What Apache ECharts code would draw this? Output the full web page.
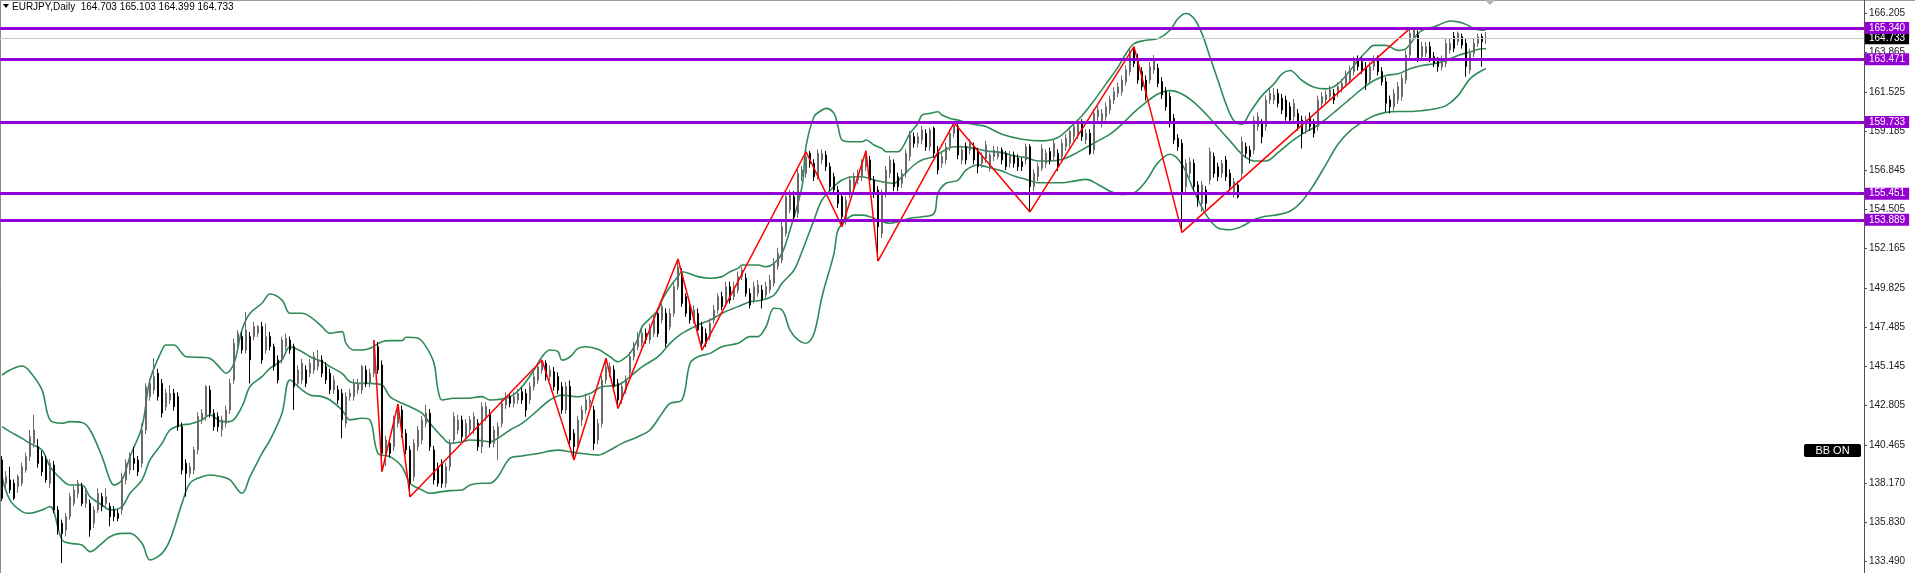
<!DOCTYPE html>
<html><head><meta charset="utf-8">
<script src="https://cdn.jsdelivr.net/npm/echarts@6/dist/echarts.min.js"></script>
<style>html,body{margin:0;padding:0;background:#fff;overflow:hidden}#c{width:1915px;height:573px}</style>
</head><body><div id="c"></div>
<script>
const symbolText = 'EURJPY,Daily';
const lastOHLC = ['164.703', '165.103', '164.399', '164.733'];
// daily candles: [open, close, low, high]
const candles = [
[139.56,137.27,137.10,139.80],[138.17,138.56,137.77,138.90],[138.37,137.77,137.57,139.16],[138.17,137.27,137.17,138.40],[137.97,138.56,137.60,138.70],
[138.17,139.16,138.00,139.40],[138.96,139.76,138.80,140.00],[139.76,140.95,139.50,141.35],[140.55,141.35,140.30,142.25],[140.35,139.36,139.10,140.80],
[139.76,138.86,138.60,140.10],[139.56,138.37,138.20,139.80],[138.17,139.36,137.90,139.60],[139.26,136.58,136.40,139.50],[136.58,135.38,135.10,136.80],
[135.78,135.18,133.40,136.00],[135.38,136.18,135.00,136.40],[136.18,137.37,136.00,137.60],[136.97,137.77,136.80,138.00],[137.57,138.17,137.30,138.37],
[137.97,136.97,136.80,138.20],[136.97,137.57,136.70,137.80],[136.97,135.38,134.98,137.20],[135.78,136.58,135.50,136.80],[136.58,137.57,136.40,137.87],
[137.37,136.78,136.50,137.60],[136.97,137.37,136.70,137.87],[136.78,136.18,135.60,137.00],[136.58,136.18,135.90,136.80],[136.38,136.08,135.90,136.60],
[136.58,138.57,136.30,138.80],[138.37,139.36,138.10,139.60],[138.96,139.76,138.70,140.00],[139.66,139.36,138.96,140.35],[139.56,138.86,138.60,139.80],
[139.36,141.35,139.10,141.75],[141.35,143.94,141.10,144.13],[143.34,144.13,143.10,144.40],[143.74,144.53,143.50,145.63],[144.73,143.34,143.10,145.00],
[144.13,142.35,142.10,144.40],[142.74,143.54,142.50,143.80],[143.14,143.54,142.90,144.03],[143.54,142.74,142.50,143.80],[143.34,141.55,141.30,143.60],
[141.55,138.96,138.70,141.80],[139.36,138.76,137.37,139.60],[138.76,139.16,138.50,139.40],[138.96,140.16,138.70,140.35],[140.16,142.15,139.90,142.40],
[141.95,142.35,141.70,142.60],[142.15,143.94,141.90,144.03],[143.74,142.35,142.10,144.00],[142.35,141.55,141.30,142.60],[142.15,141.55,141.25,142.40],
[141.35,141.95,140.95,142.20],[141.75,142.54,141.50,142.80],[142.54,144.13,142.30,144.40],[144.33,146.52,144.10,146.80],[146.52,147.12,146.30,147.32],
[146.92,146.12,145.90,147.20],[146.12,147.32,145.90,148.40],[146.92,145.53,144.13,147.20],[146.92,147.52,146.70,147.80],[147.12,147.52,146.90,147.61],
[147.52,145.53,145.30,147.80],[146.12,146.92,145.90,147.71],[146.92,146.32,146.10,147.20],[146.32,145.13,144.90,146.50],[145.53,144.33,144.13,145.80],
[145.53,146.72,145.30,146.92],[146.32,146.82,146.10,147.10],[146.72,146.12,145.90,146.92],[146.32,143.94,142.54,146.50],[144.13,144.93,143.90,145.20],
[144.33,145.33,144.10,145.60],[144.93,144.13,143.90,145.20],[144.73,145.33,144.50,145.60],[144.93,145.73,144.70,146.00],[145.13,145.53,144.90,146.12],
[145.53,144.73,144.50,145.80],[145.13,144.33,144.10,145.40],[144.73,143.74,143.50,145.00],[143.74,144.33,143.50,144.60],[143.74,143.14,142.90,144.00],
[143.54,141.95,140.85,143.80],[141.75,143.34,141.50,143.60],[143.34,143.54,143.10,143.80],[143.34,144.13,143.10,144.40],[143.74,144.13,143.50,144.40],
[143.74,145.13,143.50,145.23],[144.93,144.13,143.90,145.20],[144.13,144.73,143.90,145.00],[144.73,146.32,144.50,146.72],[146.32,144.93,144.70,146.60],
[145.23,139.96,138.87,145.50],[139.96,140.75,139.20,141.00],[140.55,139.96,139.70,140.80],[140.35,141.95,140.10,142.20],[141.75,142.74,141.50,142.90],
[142.54,141.15,140.90,142.80],[141.15,140.16,139.90,141.40],[140.16,138.17,137.37,140.40],[138.56,140.55,138.30,140.80],[140.35,141.35,140.10,141.60],
[140.75,141.95,140.50,142.20],[141.75,142.35,141.50,142.84],[142.35,140.35,140.10,142.60],[140.16,138.37,138.10,140.40],[139.16,138.17,137.97,139.40],
[139.36,138.17,137.90,139.60],[138.17,139.16,137.90,139.40],[139.16,140.55,138.90,140.80],[140.75,142.15,140.50,142.40],[141.35,141.95,141.10,142.25],
[141.95,140.95,140.70,142.20],[140.95,141.75,140.70,142.00],[141.35,141.95,141.10,142.20],[141.35,142.15,141.10,142.40],[141.75,140.35,140.10,142.00],
[140.35,142.74,139.96,143.00],[142.15,142.74,141.90,143.00],[142.35,140.55,140.30,142.60],[140.55,141.35,140.30,141.60],[140.95,141.55,139.56,141.80],
[141.74,142.94,141.50,143.20],[142.84,143.33,142.60,143.60],[143.33,142.94,142.70,143.50],[142.94,143.33,142.70,143.60],[143.14,143.53,142.90,143.80],
[143.63,143.14,142.90,143.90],[143.53,142.54,142.14,143.80],[143.14,143.93,142.90,144.20],[143.93,144.53,143.70,144.80],[144.33,145.12,144.10,145.30],
[144.93,145.32,144.70,145.52],[145.32,144.53,144.30,145.50],[144.53,144.93,144.30,145.20],[144.83,143.93,143.70,145.10],[144.53,143.73,143.50,144.80],
[143.93,142.54,142.30,144.20],[142.54,143.94,142.30,144.20],[143.94,140.75,140.50,144.30],[141.15,140.35,139.56,141.40],[140.55,141.94,140.30,142.20],
[141.94,142.54,141.60,142.80],[142.54,143.14,142.30,143.53],[142.94,143.14,142.70,143.40],[142.54,140.55,140.16,142.80],[140.75,141.74,140.50,142.00],
[141.74,144.33,141.50,144.60],[144.33,145.12,144.10,145.63],[144.73,145.12,144.50,145.40],[144.93,143.93,143.70,145.20],[144.13,143.14,142.64,144.40],
[143.14,143.93,142.90,144.20],[143.73,144.33,143.50,144.60],[144.73,145.72,144.50,146.00],[145.72,146.32,145.50,146.60],[146.32,146.92,146.10,147.20],
[146.52,147.11,146.30,147.40],[147.11,146.72,146.50,147.40],[146.72,147.41,146.50,147.70],[147.11,147.91,146.90,148.20],[148.30,147.11,146.90,148.60],
[147.91,148.71,147.70,148.90],[148.31,146.52,146.30,148.60],[147.51,148.31,147.30,148.60],[148.31,149.90,148.10,150.20],[149.90,151.09,149.70,151.55],
[150.70,148.91,148.70,151.00],[149.30,148.31,148.10,149.50],[148.71,147.91,147.70,149.00],[147.91,148.51,147.70,148.80],[148.31,147.31,147.10,148.60],
[147.51,146.52,146.12,147.80],[147.11,146.52,146.30,147.40],[146.92,147.71,146.70,148.00],[147.91,148.51,147.70,148.80],[148.51,149.30,148.30,149.50],
[149.30,148.71,148.50,149.60],[148.91,149.90,148.70,150.20],[149.90,149.10,148.90,150.20],[149.30,149.90,149.10,150.20],[149.70,150.50,149.50,150.80],
[150.50,150.89,150.30,151.09],[150.40,149.50,149.30,150.70],[149.50,148.81,148.60,149.80],[149.10,149.90,148.90,150.20],[149.50,150.00,149.30,150.30],
[149.70,149.10,148.60,150.00],[149.40,149.90,149.20,150.20],[149.70,150.30,149.50,150.60],[150.10,151.29,149.90,151.60],[151.09,151.89,150.90,152.20],
[151.49,153.48,151.30,153.80],[153.08,155.27,152.90,155.60],[154.47,155.47,154.30,155.67],[155.27,154.07,153.90,155.60],[154.27,156.66,154.00,157.06],
[156.46,156.86,156.20,157.10],[156.66,157.66,156.40,157.95],[157.86,157.26,157.00,158.00],[157.26,156.46,156.20,157.50],[156.46,157.86,156.30,158.10],
[157.46,157.86,157.20,158.10],[157.76,157.06,156.80,158.00],[157.06,155.87,155.60,157.30],[156.46,155.67,155.40,156.70],[155.67,154.87,154.60,155.90],
[155.27,154.07,153.48,155.50],[153.88,155.07,153.60,155.30],[155.47,156.26,155.20,156.50],[155.87,156.46,155.60,156.70],[156.26,156.66,156.00,156.90],
[156.46,157.26,156.20,157.50],[157.06,157.76,156.80,158.01],[157.46,156.26,156.00,157.70],[156.26,155.47,155.20,156.50],[155.67,153.48,151.43,155.90],
[153.08,155.47,152.80,155.70],[155.47,156.86,155.20,157.10],[156.66,157.46,156.40,157.70],[157.26,155.87,155.60,157.50],[156.46,155.87,155.60,156.70],
[156.07,156.66,155.80,156.90],[156.66,157.86,156.40,158.10],[157.66,158.95,157.40,159.20],[158.85,158.45,158.20,159.10],[158.45,158.85,158.20,159.10],
[158.65,159.25,158.40,159.50],[159.05,158.25,158.00,159.30],[158.25,159.25,158.00,159.40],[159.35,157.86,157.60,159.45],[158.05,156.86,156.60,158.30],
[157.26,157.66,157.00,157.90],[157.46,158.25,157.20,158.50],[158.25,159.05,158.00,159.30],[159.05,159.55,158.80,159.68],[159.45,157.76,157.50,159.60],
[157.46,158.05,157.20,158.30],[158.25,157.46,157.20,158.50],[158.05,158.45,157.80,158.70],[158.25,157.46,157.20,158.50],[157.96,157.06,156.66,158.20],
[157.26,157.66,157.00,157.90],[157.56,158.35,157.30,158.60],[157.06,157.76,156.76,157.90],[157.66,158.05,157.40,158.30],[157.66,157.96,157.50,158.25],
[158.05,157.46,157.20,158.20],[157.86,157.06,156.86,158.00],[157.26,157.76,157.00,158.00],[157.76,157.26,157.00,157.96],[157.56,157.06,156.80,157.80],
[157.36,157.06,156.80,157.60],[157.46,158.25,157.20,158.45],[158.25,155.87,154.36,158.40],[155.87,156.66,155.60,156.90],[156.46,157.06,156.20,157.30],
[156.96,158.15,156.80,158.40],[157.26,157.86,157.00,158.10],[157.96,157.46,157.20,158.20],[157.66,158.45,157.40,158.65],[157.86,157.06,156.80,158.10],
[157.66,158.45,157.40,158.70],[158.25,158.75,158.00,159.00],[158.45,159.15,158.20,159.40],[158.85,159.45,158.60,159.70],[158.95,159.74,158.70,159.85],
[159.65,158.85,158.60,159.90],[158.65,159.05,158.40,159.30],[159.05,157.86,157.76,159.30],[158.05,160.24,157.80,160.50],[160.04,160.44,159.80,160.70],
[159.65,160.24,159.40,160.50],[160.04,160.64,159.80,160.90],[160.44,161.04,160.20,161.30],[161.04,161.53,160.80,161.80],[161.43,161.83,161.20,162.10],
[161.53,162.23,161.30,162.50],[162.13,162.83,161.90,163.10],[162.73,163.82,162.50,164.10],[164.12,163.23,163.00,164.22],[163.52,162.23,162.00,163.80],
[162.73,161.83,161.60,163.00],[162.23,161.24,161.00,162.50],[162.23,163.03,162.00,163.30],[162.83,163.52,162.60,163.72],[162.93,162.03,161.80,163.20],
[162.13,161.34,161.10,162.40],[161.53,160.64,160.40,161.80],[161.24,159.65,159.40,161.50],[159.94,158.65,158.40,160.20],[158.75,158.25,158.00,159.00],
[158.45,155.47,153.14,158.70],[155.87,157.26,155.50,157.50],[156.66,157.36,156.40,157.60],[157.26,155.87,155.60,157.50],[155.97,155.07,154.67,156.20],
[154.87,155.97,154.36,156.20],[155.67,154.87,154.50,155.90],[156.26,157.96,156.00,158.20],[157.66,156.66,156.40,157.90],[157.06,156.46,156.20,157.30],
[156.66,157.26,156.40,157.46],[157.46,156.46,156.20,157.70],[156.66,155.87,155.60,156.90],[155.47,156.17,155.20,156.40],[155.97,155.27,155.17,156.20],
[156.66,158.55,156.40,158.85],[158.25,157.86,157.60,158.50],[158.05,157.66,157.26,158.30],[158.05,159.84,157.80,160.10],[159.45,160.04,159.20,160.30],
[159.65,158.85,158.45,159.90],[159.45,161.04,159.20,161.30],[161.04,161.43,160.80,161.70],[161.04,161.34,160.80,161.74],[161.43,160.84,160.60,161.70],
[161.14,160.44,160.20,161.40],[161.04,160.04,159.80,161.30],[160.64,159.84,159.60,160.90],[160.04,160.84,159.80,161.10],[160.24,159.45,159.20,160.50],
[159.84,159.05,158.15,160.10],[159.25,159.84,159.00,160.10],[160.04,159.45,159.20,160.30],[159.65,159.05,158.80,159.90],[159.45,161.04,159.20,161.30],
[160.84,161.24,160.60,161.50],[161.04,161.34,160.80,161.60],[161.24,161.63,161.00,161.90],[161.43,161.04,160.80,161.70],[161.43,161.83,161.20,162.10],
[161.73,162.03,161.50,162.30],[162.03,162.53,161.80,162.80],[162.23,162.83,162.00,163.10],[162.73,163.42,162.50,163.62],[163.42,163.03,162.80,163.70],
[163.32,162.83,162.60,163.60],[163.03,162.03,161.64,163.30],[162.23,163.03,162.00,163.30],[163.03,163.42,162.80,163.70],[163.42,162.73,162.50,163.70],
[162.73,162.13,161.90,163.00],[162.13,160.84,160.34,162.40],[161.04,160.64,160.24,161.30],[160.64,161.43,160.40,161.70],[161.04,161.83,160.80,162.10],
[161.24,162.33,161.00,162.60],[162.23,163.72,162.00,164.00],[163.72,165.02,163.50,165.31],[164.82,165.22,164.60,165.25],[164.92,163.52,163.30,165.20],
[163.62,164.22,163.40,164.50],[163.82,164.22,163.60,164.50],[164.22,163.52,163.30,164.50],[163.62,163.23,163.00,163.90],[163.32,163.03,162.73,163.60],
[163.03,163.42,162.80,163.70],[163.23,164.42,163.00,164.70],[164.02,164.42,163.80,164.70],[164.82,164.12,163.90,165.10],[164.52,165.02,164.30,165.12],
[164.82,164.32,164.10,165.00],[164.42,163.03,162.43,164.70],[162.83,163.82,162.60,164.10],[163.82,164.42,163.60,164.70],[164.42,164.82,164.20,165.00],
[164.82,164.52,163.03,165.00],[164.703,164.733,164.399,165.103]
];
const shiftBars = 94; // empty space right of the last bar
// Bollinger Bands: [barIndex, value]
const bbUpper = [
[0,144.63],[2,144.93],[5,145.17],[7,144.83],[10,143.74],[12,141.95],[15,141.75],[17,141.85],[20,141.79],[22,141.35],[25,139.76],[27,138.37],[28,138.07],[30,138.37],[32,139.76],[35,141.55],[37,144.33],[40,146.12],[41,146.42],[43,146.42],[45,145.92],[46,145.72],[50,145.68],[52,145.62],[55,144.93],[56,144.73],[58,145.33],[60,147.32],[62,148.31],[65,148.91],[67,149.46],[70,149.10],[72,148.31],[75,148.31],[77,148.11],[80,147.52],[82,147.12],[85,147.22],[86,146.52],[88,146.12],[90,146.12],[92,146.22],[95,146.62],[97,146.68],[100,146.68],[101,146.88],[104,146.82],[106,146.32],[108,145.33],[109,143.74],[110,143.14],[113,143.24],[116,143.24],[120,143.34],[122,143.14],[127,143.33],[130,143.93],[133,144.93],[135,145.72],[137,146.12],[139,146.02],[140,145.52],[142,145.72],[144,146.22],[146,146.32],[149,146.16],[152,145.72],[154,145.42],[155,145.52],[157,145.92],[159,146.81],[160,147.51],[162,148.01],[164,148.51],[165,149.10],[167,149.90],[169,150.50],[170,150.79],[174,150.50],[177,150.40],[180,150.50],[182,150.79],[184,150.99],[185,151.19],[189,151.19],[191,151.09],[193,151.29],[195,151.89],[197,153.28],[200,155.87],[201,158.25],[203,160.04],[205,160.44],[206,160.54],[208,160.24],[209,159.45],[210,158.65],[212,158.55],[215,158.55],[216,158.65],[218,158.35],[220,158.15],[221,157.95],[224,157.95],[225,158.15],[227,159.05],[229,159.65],[230,160.14],[232,160.24],[234,160.34],[235,160.14],[237,159.94],[239,159.84],[241,159.68],[244,159.55],[246,159.45],
[250,159.0],[255,158.7],[260,158.6],[264,158.8],[267,159.4],[270,160.1],[273,161.0],[276,162.0],[279,163.0],[281,163.8],[283,164.4],[286,164.6],[289,164.7],[292,165.2],[294,165.9],[296,166.2],[298,165.9],[300,165.0],[302,163.6],[304,162.2],[306,160.8],[308,159.8],[310,159.6],[312,160.3],[315,161.3],[318,162.0],[320,162.6],[322,162.8],[325,162.2],[328,161.8],[331,161.7],[334,162.0],[337,162.8],[339,163.4],[341,163.9],[343,164.3],[346,164.3],[349,164.0],[351,164.1],[354,165.0],[356,165.3],[358,165.4],[360,165.6],[362,165.75],[364,165.7],[366,165.55],[368,165.3],[370,165.2],[371,165.25]
];
const bbMiddle = [
[0,141.55],[2,141.25],[5,140.85],[7,140.55],[10,140.16],[12,139.16],[15,138.37],[17,138.07],[20,138.07],[22,137.37],[25,136.87],[27,136.58],[30,136.78],[32,137.57],[35,138.37],[37,139.56],[40,140.55],[42,141.35],[45,141.65],[47,141.71],[50,141.95],[52,142.25],[55,141.85],[57,141.85],[60,142.74],[62,143.94],[65,144.53],[67,145.03],[70,145.53],[72,146.32],[75,146.02],[77,145.72],[80,145.43],[82,145.13],[85,144.73],[87,144.23],[90,144.13],[92,144.13],[95,144.03],[97,143.34],[100,142.94],[102,142.74],[105,142.35],[107,141.75],[110,140.95],[112,140.55],[115,140.65],[117,140.75],[120,140.71],[122,140.65],[124,140.85],[127,141.35],[130,141.74],[134,142.54],[137,143.14],[140,143.43],[144,143.33],[147,143.53],[150,143.93],[154,144.03],[157,144.53],[160,145.12],[164,145.72],[167,146.52],[170,147.11],[174,147.61],[177,147.91],[180,148.31],[184,148.71],[187,149.00],[190,149.10],[193,149.40],[195,150.10],[198,150.89],[200,152.00],[203,153.88],[205,155.07],[208,155.87],[210,156.26],[213,156.46],[215,156.46],[218,156.26],[220,156.16],[223,156.07],[225,156.46],[228,157.16],[230,157.46],[233,157.66],[235,157.95],[238,158.25],[240,158.25],[243,158.15],[246,158.0],
[250,157.9],[253,157.7],[256,157.6],[259,157.4],[262,157.4],[265,157.5],[268,157.8],[271,158.2],[274,158.6],[277,159.0],[280,159.6],[283,160.3],[286,160.9],[289,161.4],[292,161.6],[295,161.4],[298,160.9],[301,160.2],[304,159.4],[307,158.6],[310,157.8],[313,157.4],[316,157.4],[319,157.9],[322,158.5],[325,159.0],[328,159.4],[331,159.9],[334,160.5],[337,161.1],[340,161.7],[343,162.2],[346,162.5],[349,162.6],[352,162.9],[355,163.1],[358,163.2],[361,163.4],[364,163.7],[367,163.9],[370,164.1],[371,164.1]
];
const bbLower = [
[0,138.56],[2,137.17],[5,136.48],[7,136.38],[10,136.58],[12,136.78],[15,134.79],[17,134.59],[20,134.49],[22,134.09],[25,134.59],[27,134.98],[30,135.18],[32,135.18],[35,134.59],[37,133.59],[40,133.99],[42,134.79],[45,136.97],[47,138.17],[50,138.56],[52,138.66],[55,138.56],[57,138.37],[60,137.57],[62,138.56],[65,139.96],[67,140.75],[70,142.35],[72,144.33],[75,143.74],[77,143.44],[80,143.34],[82,143.14],[85,142.54],[87,141.95],[90,142.05],[92,141.95],[94,139.96],[97,139.76],[100,139.16],[102,138.17],[105,137.77],[107,137.57],[110,137.67],[112,137.73],[115,137.77],[117,138.07],[120,138.17],[122,138.17],[124,138.56],[127,139.66],[130,139.80],[134,139.95],[139,140.15],[142,140.05],[145,139.95],[149,139.85],[152,140.15],[155,140.55],[159,140.95],[162,141.35],[165,142.34],[167,142.94],[170,143.14],[172,145.32],[174,145.72],[177,145.92],[180,146.32],[184,146.52],[187,146.92],[189,146.92],[191,147.51],[193,148.61],[195,148.51],[197,147.31],[199,146.72],[201,146.52],[203,147.11],[205,149.30],[208,151.89],[209,153.28],[211,153.88],[213,154.17],[215,154.17],[217,154.07],[219,153.88],[222,153.68],[224,153.78],[227,153.98],[230,154.07],[233,154.27],[234,155.47],[236,156.07],[239,156.26],[241,156.86],[244,157.16],[246,157.06],
[250,156.8],[253,156.5],[256,156.3],[259,156.1],[262,156.1],[265,156.1],[268,156.2],[271,156.3],[274,156.0],[277,155.6],[280,155.4],[283,155.5],[286,156.2],[289,157.3],[292,157.8],[295,157.2],[298,155.6],[301,154.2],[304,153.4],[307,153.3],[310,153.5],[313,153.9],[316,154.1],[319,154.2],[322,154.4],[325,155.0],[328,156.0],[331,157.2],[334,158.4],[337,159.2],[340,159.7],[343,160.1],[346,160.3],[349,160.35],[352,160.35],[355,160.4],[358,160.5],[361,160.7],[364,161.3],[367,162.3],[370,162.8],[371,162.9]
];
// ZigZag swing points: [barIndex, price]
const zigzag = [[93,146.72],[95,138.87],[99,142.90],[102,137.37],[135,145.52],[143,139.56],[151,145.63],[154,142.64],[169,151.55],[175,146.12],[201,157.95],[210,153.48],[216,158.01],[219,151.43],[238,159.68],[257,154.36],[283,164.22],[295,153.14],[352,165.31]];
const levels = [165.340, 163.471, 159.733, 155.451, 153.889];
const currentPrice = 164.733;
const yTicks = [166.205, 163.865, 161.525, 159.185, 156.845, 154.505, 152.165, 149.825, 147.485, 145.145, 142.805, 140.465, 138.170, 135.830, 133.490];
const yTickLabels = ['166.205', '163.865', '161.525', '159.185', '156.845', '154.505', '152.165', '149.825', '147.485', '145.145', '142.805', '140.465', '138.170', '135.830', '133.490'];
const yMin = 132.816, yMax = 167.005;

const nCat = candles.length + shiftBars;
const cats = Array.from({length: nCat}, (_, i) => String(i));
const chart = echarts.init(document.getElementById('c'), null, {renderer: 'canvas'});
const FONT = 'Liberation Sans';
function tickLabel(v) {
  let best = 0, bd = Infinity;
  yTicks.forEach((t, i) => { const d = Math.abs(t - v); if (d < bd) { bd = d; best = i; } });
  return yTickLabels[best];
}
const boxLabel = (txt, bg) => ({
  show: true, position: 'end', distance: 1, formatter: () => txt, color: '#fff',
  backgroundColor: bg, padding: [1, 4, 0, 4], fontSize: 10, fontFamily: FONT, lineHeight: 11
});
const levelLines = levels.map(v => ({
  yAxis: v, lineStyle: {color: '#9400D3', width: 3, type: 'solid'}, label: boxLabel(v.toFixed(3), '#9400D3')
}));
levelLines.unshift({
  yAxis: currentPrice, lineStyle: {color: '#c8c8c8', width: 1, type: 'solid'}, label: boxLabel(currentPrice.toFixed(3), '#000')
});
const bandSeries = (data) => ({
  type: 'line', data, smooth: 0.35, showSymbol: false, symbol: 'none', silent: true, z: 3,
  lineStyle: {color: '#2E8B57', width: 1.6}, animation: false
});
chart.setOption({
  animation: false,
  backgroundColor: '#ffffff',
  grid: {left: 0, right: 51, top: 0, bottom: 0, containLabel: false},
  xAxis: {type: 'category', data: cats, boundaryGap: true, show: false},
  yAxis: {
    type: 'value', position: 'right', min: yMin, max: yMax, scale: true,
    splitLine: {show: false},
    axisLine: {show: true, lineStyle: {color: '#505050', width: 1}},
    axisTick: {show: true, length: 3, customValues: yTicks, lineStyle: {color: '#505050'}},
    axisLabel: {show: true, customValues: yTicks, formatter: v => tickLabel(v), color: '#1a1a1a',
                fontSize: 10, fontFamily: FONT, margin: 5}
  },
  series: [
    bandSeries(bbUpper), bandSeries(bbMiddle), bandSeries(bbLower),
    {
      type: 'candlestick', data: candles, barWidth: 2, z: 4,
      itemStyle: {color: '#bcbcbc', color0: '#000000', borderColor: '#6a6a6a', borderColor0: '#000000', borderWidth: 1},
      markLine: {symbol: 'none', silent: true, animation: false, z: 6, data: levelLines}
    },
    {type: 'line', data: zigzag, showSymbol: false, symbol: 'none', z: 5,
     lineStyle: {color: '#ff0000', width: 1.5}}
  ],
  graphic: [
    {type: 'line', shape: {x1: 0, y1: 0.5, x2: 1915, y2: 0.5}, style: {stroke: '#9a9a9a', lineWidth: 1}, silent: true},
    {type: 'line', shape: {x1: 0.5, y1: 0, x2: 0.5, y2: 573}, style: {stroke: '#8a8a8a', lineWidth: 1}, silent: true},
    {type: 'polygon', shape: {points: [[3, 4], [9, 4], [6, 8]]}, style: {fill: '#000'}, silent: true},
    {type: 'text', left: 12, top: 2, style: {text: symbolText + '  ' + lastOHLC.join(' '), fill: '#000', font: '10px "Liberation Sans"'}, silent: true},
    {type: 'polygon', shape: {points: [[1485, 0], [1495, 0], [1490, 5]]}, style: {fill: '#b4b4b4'}, silent: true},
    {type: 'rect', shape: {x: 1804, y: 444, width: 57, height: 13, r: 2}, style: {fill: '#000'}, silent: true},
    {type: 'text', x: 1832.5, y: 450.5, style: {text: 'BB ON', fill: '#fff', font: '11px "Liberation Sans"', textAlign: 'center', textVerticalAlign: 'middle'}, silent: true}
  ]
});
</script></body></html>
